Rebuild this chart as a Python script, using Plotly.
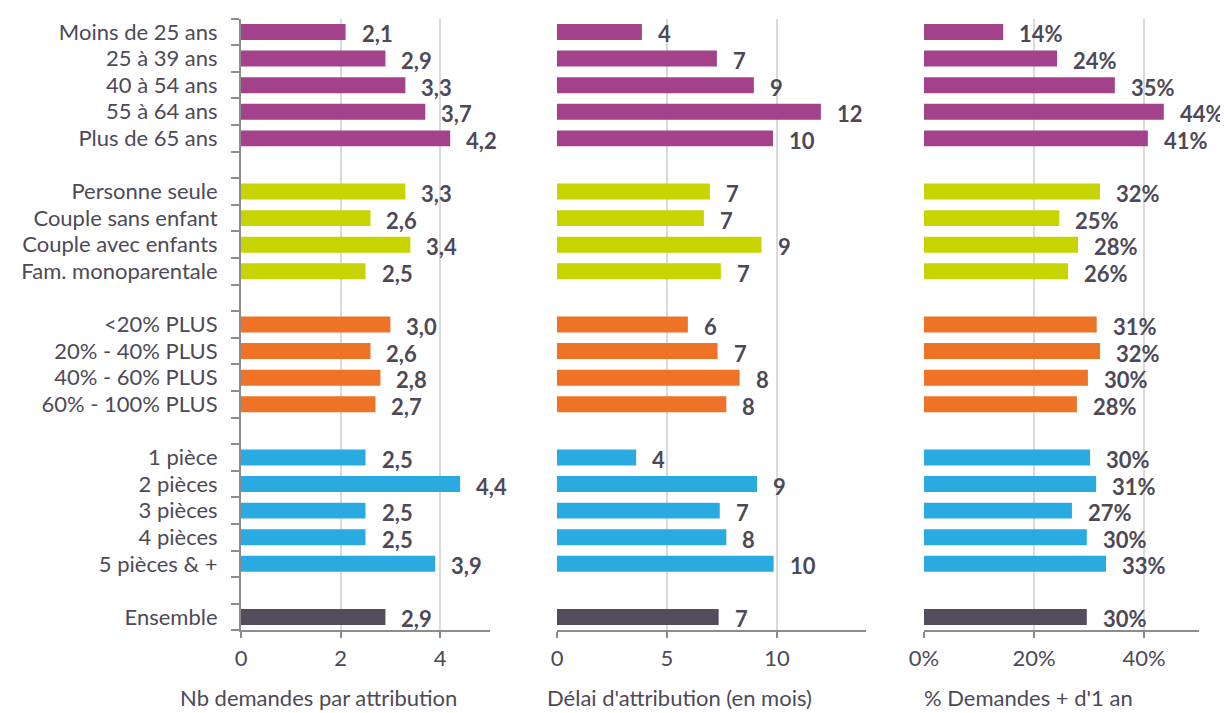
import plotly.graph_objects as go

# ---------------- data ----------------
groups = [
    ["Moins de 25 ans", "25 à 39 ans", "40 à 54 ans", "55 à 64 ans", "Plus de 65 ans"],
    ["Personne seule", "Couple sans enfant", "Couple avec enfants", "Fam. monoparentale"],
    ["<20% PLUS", "20% - 40% PLUS", "40% - 60% PLUS", "60% - 100% PLUS"],
    ["1 pièce", "2 pièces", "3 pièces", "4 pièces", "5 pièces & +"],
    ["Ensemble"],
]
group_colors = ["#A3418A", "#C8D400", "#EE7326", "#29ABE2", "#534D5B"]

nb_demandes = [2.1, 2.9, 3.3, 3.7, 4.2,
               3.3, 2.6, 3.4, 2.5,
               3.0, 2.6, 2.8, 2.7,
               2.5, 4.4, 2.5, 2.5, 3.9,
               2.9]
delai_mois = [3.86, 7.27, 8.95, 12.0, 9.82,
              6.95, 6.68, 9.3, 7.45,
              5.95, 7.3, 8.3, 7.7,
              3.6, 9.1, 7.4, 7.7, 9.85,
              7.35]
pct_plus_1an = [14.4, 24.2, 34.7, 43.6, 40.7,
                32.0, 24.6, 28.0, 26.2,
                31.4, 32.0, 29.8, 27.8,
                30.2, 31.3, 26.9, 29.6, 33.1,
                29.6]

panel_titles = ["Nb demandes par attribution", "Délai d'attribution (en mois)", "% Demandes + d'1 an"]

# ---------------- layout helpers ----------------
labels, positions, colors = [], [], []
pos = 0
for gi, g in enumerate(groups):
    if gi > 0:
        pos += 1  # empty slot between groups
    for name in g:
        labels.append(name)
        positions.append(pos)
        colors.append(group_colors[gi])
        pos += 1
last = positions[-1]
boundaries = [i - 0.5 for i in range(last + 2)]

W, H = 1220, 705   # page body has an 8px margin
OFF = 8

def fx(px):
    return (px - OFF) / W

def fy(py):
    return 1 - (py - OFF) / H

FONT = "Lato"
TXT = "#4E4957"
GRID = "#DADADA"
AXL = "#8C8C8C"
FS = 22

panels = [
    dict(values=nb_demandes, fmt=lambda v: f"{v:.1f}".replace(".", ","), rng=[0, 5.0],
         tickvals=[0, 2, 4], ticktext=["0", "2", "4"], dom=[fx(241), fx(490)]),
    dict(values=delai_mois, fmt=lambda v: f"{round(v)}", rng=[0, 14.05],
         tickvals=[0, 5, 10], ticktext=["0", "5", "10"], dom=[fx(557), fx(866)]),
    dict(values=pct_plus_1an, fmt=lambda v: f"{round(v)}%", rng=[0, 50],
         tickvals=[0, 20, 40], ticktext=["0%", "20%", "40%"], dom=[fx(924), fx(1199)]),
]

ydom = [fy(630.3), fy(18.7)]

fig = go.Figure()
annotations = []
for k, p in enumerate(panels):
    sx = "" if k == 0 else str(k + 1)
    fig.add_trace(go.Bar(
        x=p["values"], y=positions, orientation="h", width=0.6,
        marker=dict(color=colors, line=dict(width=0)),
        xaxis="x" + sx, yaxis="y" + sx, showlegend=False, hoverinfo="skip",
    ))
    for v, yp in zip(p["values"], positions):
        annotations.append(dict(
            x=v, y=yp, xref="x" + sx, yref="y" + sx, text=p["fmt"](v),
            showarrow=False, xanchor="left", yanchor="middle", xshift=14, yshift=-2,
            font=dict(family=FONT, size=FS, color=TXT, weight="bold"),
        ))
    xa = dict(domain=p["dom"], range=p["rng"], anchor="y" + sx, automargin=False,
              tickmode="array", tickvals=p["tickvals"], ticktext=p["ticktext"],
              showgrid=True, gridcolor=GRID, gridwidth=2, zeroline=False,
              showline=True, linecolor=AXL, linewidth=2,
              ticks="outside", ticklen=6, tickwidth=2, tickcolor=AXL,
              ticklabelstandoff=1,
              tickfont=dict(family=FONT, size=FS, color=TXT), fixedrange=True)
    ya = dict(domain=ydom, range=[last + 0.5, -0.5], anchor="x" + sx, automargin=False,
              showgrid=False, zeroline=False, fixedrange=True)
    if k == 0:
        ya.update(tickmode="array", tickvals=positions, ticktext=labels, ticks="",
                  showline=True, linecolor=AXL, linewidth=2,
                  tickfont=dict(family=FONT, size=FS, color=TXT),
                  ticklabelstandoff=17,
                  minor=dict(tickmode="array", tickvals=boundaries, ticks="outside",
                             ticklen=8, tickwidth=2, tickcolor=AXL, showgrid=False))
    else:
        ya.update(showticklabels=False, showline=False, ticks="")
    fig.layout["xaxis" + sx] = xa
    fig.layout["yaxis" + sx] = ya

title_x = [fx(178), fx(545), fx(922)]
for t, xx in zip(panel_titles, title_x):
    annotations.append(dict(x=xx, y=fy(697), xref="paper", yref="paper", text=t,
                            showarrow=False, xanchor="left", yanchor="middle",
                            font=dict(family=FONT, size=FS, color=TXT)))

fig.update_layout(
    width=W, height=H,
    margin=dict(l=0, r=0, t=0, b=0),
    paper_bgcolor="white", plot_bgcolor="white",
    annotations=annotations,
    bargap=0.4,
)

fig.write_html("out.html")
